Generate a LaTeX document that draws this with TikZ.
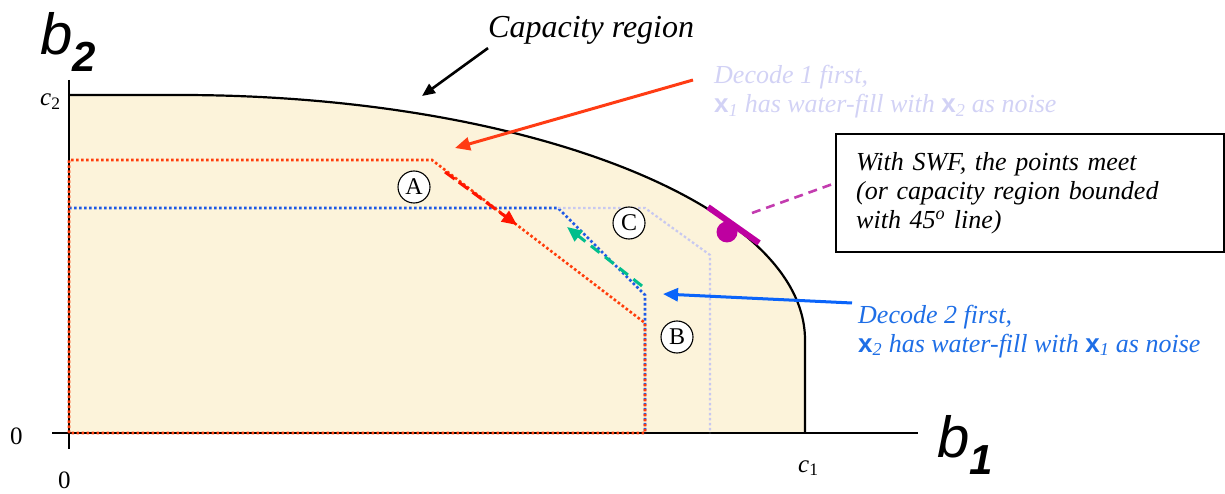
\documentclass[tikz,border=0pt]{standalone}
\usepackage{fontspec}
\setmainfont{Liberation Serif}
\setsansfont{Liberation Sans}
\usetikzlibrary{arrows.meta,calc}
\definecolor{cream}{RGB}{252,243,218}
\definecolor{reddot}{RGB}{255,60,10}
\definecolor{redarr}{RGB}{255,20,0}
\definecolor{redsolid}{RGB}{255,60,20}
\definecolor{bluedot}{RGB}{30,90,230}
\definecolor{bluearr}{RGB}{10,100,250}
\definecolor{lavline}{RGB}{200,200,240}
\definecolor{lavtext}{RGB}{210,210,245}
\definecolor{bluetext}{RGB}{30,110,230}
\definecolor{greenarr}{RGB}{0,190,140}
\definecolor{mag}{RGB}{190,0,160}
\definecolor{magdash}{RGB}{195,60,175}
\newcommand{\bx}[1]{\textsf{\upshape\bfseries x}\textsubscript{#1}}
\tikzset{
  dotline/.style={line width=2.6pt, dash pattern=on 2.6pt off 2.4pt},
  circlab/.style={circle, draw, fill=white, line width=1.1pt, minimum size=32pt, inner sep=0pt, font=\fontsize{24}{24}\selectfont},
  txt/.style={inner sep=0pt, anchor=base west},
  arrowline/.style={line width=3pt, -{Triangle[length=15pt,width=13pt]}},
  axislab/.style={inner sep=0pt, anchor=base west, font=\fontsize{25}{25}\selectfont},
  biglab/.style={inner sep=0pt, anchor=base west, font=\fontsize{58}{58}\selectfont\sffamily\itshape}
}
\begin{document}
\begin{tikzpicture}[x=1pt,y=-1pt]
\useasboundingbox (0,0) rectangle (1225,494);
% region
\fill[cream] (69,433) -- (69,95) -- (180,95) .. controls (525,95) and (805,205) .. (805,340) -- (805,433) -- cycle;
\draw[line width=2.2pt] (69,95) -- (180,95) .. controls (525,95) and (805,205) .. (805,340) -- (805,433);
% axes
\draw[line width=2.2pt] (52,433) -- (918,433);
\draw[line width=2.2pt] (69,80) -- (69,449);
% dotted boundaries
\draw[bluedot, dotline] (69,208) -- (558,208) -- (645,295) -- (645,433);
\draw[lavline, dotline, line width=2.2pt] (558,208) -- (645,208) -- (710,255) -- (710,433);
\draw[reddot, dotline] (69,433) -- (69,160) -- (432,160) -- (645,323) -- (645,433) -- cycle;
% circled labels
\node[circlab] (A) at (414,187) {A};
\node[circlab] (B) at (677,337) {B};
\node[circlab] (C) at (629,223) {C};
% axis labels
\node[biglab] (b2) at (40,55) {b\raisebox{-17pt}{\fontsize{42}{42}\selectfont\bfseries 2}};
\node[biglab] (b1) at (937,457) {b\raisebox{-17pt}{\fontsize{42}{42}\selectfont\bfseries 1}};
\node[axislab] (c2) at (40,106) {\textit{c}\textsubscript{2}};
\node[axislab] (c1) at (798,472) {\textit{c}\textsubscript{1}};
\node[axislab] (z0) at (10,444) {0};
\node[axislab] (z1) at (58,488) {0};
% texts
\node[txt, font=\fontsize{32}{36}\selectfont\itshape] (cap) at (488,38) {Capacity region};
\node[txt, align=left, text=lavtext, font=\fontsize{26}{29}\selectfont\itshape] (dec1) at (714,113) {Decode 1 first,\\ \bx{1} has water-fill with \bx{2} as noise};
\node[txt, align=left, text=bluetext, font=\fontsize{26}{29}\selectfont\itshape] (dec2) at (858,352) {Decode 2 first,\\ \bx{2} has water-fill with \bx{1} as noise};
\node[draw, line width=2.4pt, anchor=north west, text width=348pt, inner xsep=20pt, inner ysep=0pt, minimum height=118pt, align=left, font=\fontsize{26}{29}\selectfont\itshape] (box) at (835,133) {With SWF, the points meet\\(or capacity region bounded\\with 45\textsuperscript{o} line)};
% marker
\draw[mag, line width=6pt] (708,207) -- (759,243);
\node[circle, fill=mag, minimum size=21pt, inner sep=0pt] (dot) at (727,232) {};
% arrows
\coordinate (capTip) at (422,96);
\draw[line width=2.6pt, -{Triangle[length=13pt,width=11pt]}] ($(cap.south west)+(0,3)$) -- (capTip);
\coordinate (d1s) at (693,80);
\coordinate (d1t) at (455,148);
\draw[redsolid, arrowline] (d1s) -- (d1t);
\coordinate (d2s) at (852,303);
\coordinate (d2t) at (663,294);
\draw[bluearr, arrowline] (d2s) -- (d2t);
\coordinate (ras) at (445,172);
\coordinate (rat) at (517,225);
\draw[redarr, line width=3pt, dash pattern=on 12pt off 5pt, -{Triangle[length=15pt,width=13pt]}] (ras) -- (rat);
\coordinate (gas) at (642,286);
\coordinate (gat) at (567,227);
\draw[greenarr, line width=3pt, dash pattern=on 11pt off 7pt, -{Triangle[length=15pt,width=13pt]}] (gas) -- (gat);
\coordinate (mds) at (752,213);
\draw[magdash, line width=2.6pt, dash pattern=on 9pt off 6pt] (mds) -- ($(box.west)+(0,-10)$);
\end{tikzpicture}
\end{document}
